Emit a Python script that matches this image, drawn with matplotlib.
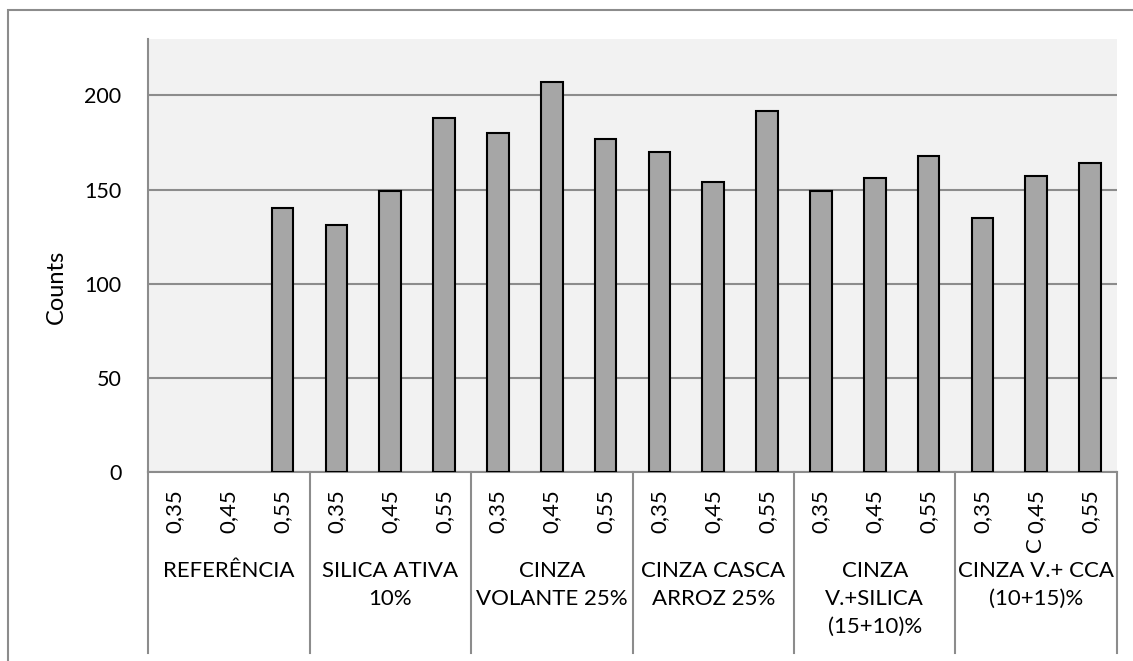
import numpy as np
import matplotlib
matplotlib.use('Agg')
import matplotlib.pyplot as plt
import matplotlib.transforms as mtransforms

plt.rcParams['font.family'] = ['Lato', 'DejaVu Sans']

# ── Data ──────────────────────────────────────────────────────────────────────
groups = ['REFERÊNCIA', 'SILICA ATIVA\n10%', 'CINZA\nVOLANTE 25%',
          'CINZA CASCA\nARROZ 25%', 'CINZA\nV.+SILICA\n(15+10)%',
          'CINZA V.+ CCA\n(10+15)%']
ratios = ['0,35', '0,45', '0,55']
counts = [
    [0, 0, 140],
    [131, 149, 188],
    [180, 207, 177],
    [170, 154, 192],
    [149, 156, 168],
    [135, 157, 164],
]
yticks = [0, 50, 100, 150, 200]

values = np.array(counts).ravel()
n_slots = len(values)
xpos = np.arange(n_slots)

# ── Figure ────────────────────────────────────────────────────────────────────
W, H = 1133, 661
fig = plt.figure(figsize=(W / 100, H / 100), dpi=100)
fig.patch.set_facecolor('white')

# outer chart border (only top/left visible in the reference)
border = plt.Rectangle((8 / W, -0.1), 1.2, 1 - 10 / H + 0.1, transform=fig.transFigure,
                       fill=False, edgecolor='#8c8c8c', linewidth=1.5)
fig.add_artist(border)

left, right, bottom, top = 148 / W, 1117 / W, 1 - 472 / H, 1 - 39 / H
ax = fig.add_axes([left, bottom, right - left, top - bottom])
ax.set_facecolor('#f2f2f2')

bars = ax.bar(xpos, values, width=0.4, color='#a6a6a6', edgecolor='black',
              linewidth=1.5, zorder=3)
# empty bars leave no outline, as in the spreadsheet
for b, v in zip(bars, values):
    if v == 0:
        b.set_visible(False)

ax.set_xlim(-0.5, n_slots - 0.5)
ax.set_ylim(0, 230)
ax.set_yticks(yticks)
ax.set_yticklabels([str(t) for t in yticks], fontsize=15.5)
ax.tick_params(axis='y', length=0, pad=19)
ax.set_xticks([])
ax.yaxis.grid(True, color='#8c8c8c', linewidth=1.5, zorder=1)
ax.set_axisbelow(True)

for s in ['top', 'right']:
    ax.spines[s].set_visible(False)
ax.spines['left'].set_color('#8c8c8c')
ax.spines['left'].set_linewidth(1.5)
ax.spines['bottom'].set_color('#8c8c8c')
ax.spines['bottom'].set_linewidth(1.5)

fig.text(56 / W, 1 - 287 / H, 'Counts', rotation=90, ha='center', va='center',
         fontsize=17)

# ── Multi-level category axis ─────────────────────────────────────────────────
trans = mtransforms.blended_transform_factory(ax.transData, fig.transFigure)
y_axis_top = 1 - 472 / H
y_axis_bot = 1 - 653 / H

# left axis line continues down through the category area
ax.plot([-0.5, -0.5], [y_axis_top, y_axis_bot], transform=trans,
        color='#8c8c8c', linewidth=1.5, clip_on=False)

for g, name in enumerate(groups):
    x_end = 3 * g + 2.5
    ax.plot([x_end, x_end], [y_axis_top, y_axis_bot], transform=trans,
            color='#8c8c8c', linewidth=1.5, clip_on=False)
    for k, r in enumerate(ratios):
        ax.text(3 * g + k, 1 - 511 / H, r, transform=trans, rotation=90,
                ha='center', va='center', fontsize=16)
    ax.text(3 * g + 1, 1 - 561 / H, name, transform=trans, ha='center',
            va='top', fontsize=16, linespacing=1.5)

# stray glyph seen under the last "0,45"
ax.text(16 - 0.03, 1 - 545 / H, 'C', transform=trans, rotation=90,
        ha='center', va='center', fontsize=16)

fig.savefig('out.png', dpi=100)
